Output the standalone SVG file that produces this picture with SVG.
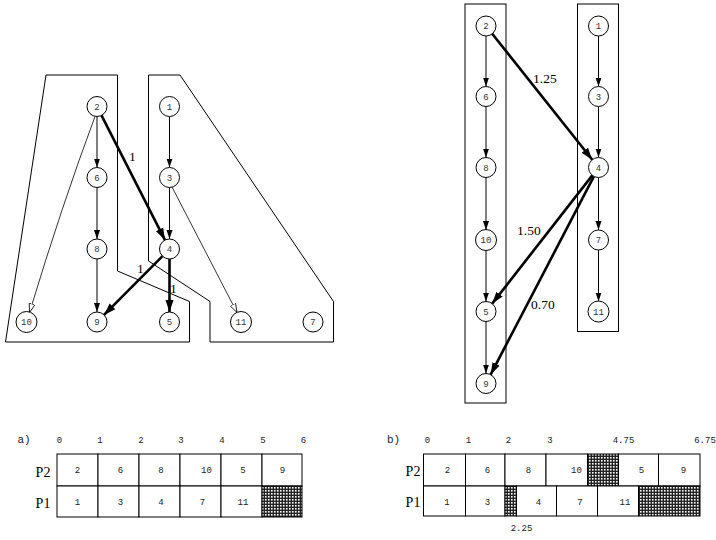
<svg xmlns="http://www.w3.org/2000/svg" width="716" height="540" viewBox="0 0 716 540">
<style>
.nd{fill:#fff;stroke:#000;stroke-width:1}
.nt{font-family:"Liberation Mono",monospace;font-size:9px;fill:#333;text-anchor:middle}
.cl{fill:none;stroke:#000;stroke-width:1}
.e{fill:none;stroke:#000;stroke-width:1;marker-end:url(#a)}
.eo{fill:none;stroke:#000;stroke-width:0.8;marker-end:url(#o)}
.et{fill:none;stroke:#000;stroke-width:2.6;marker-end:url(#t)}
.el{font-family:"Liberation Serif",serif;font-size:13.5px;fill:#000}
.tk{font-family:"Liberation Mono",monospace;font-size:9px;fill:#222;text-anchor:middle}
.ct{font-family:"Liberation Mono",monospace;font-size:9px;fill:#222;text-anchor:middle}
.pl{font-family:"Liberation Serif",serif;font-size:14px;fill:#000;text-anchor:middle}
.cell{fill:#fff;stroke:#000;stroke-width:1}
.h{fill:url(#hp);stroke:#000;stroke-width:1}
</style>
<defs>
<marker id="a" markerUnits="userSpaceOnUse" markerWidth="10" markerHeight="10" refX="9" refY="5" orient="auto"><path d="M0,2 L9,5 L0,8 Z" fill="#000"/></marker>
<marker id="t" markerUnits="userSpaceOnUse" markerWidth="14" markerHeight="14" refX="12" refY="7" orient="auto"><path d="M0,3 L12,7 L0,11 Z" fill="#000"/></marker>
<marker id="o" markerUnits="userSpaceOnUse" markerWidth="10" markerHeight="10" refX="9" refY="5" orient="auto"><path d="M0,2 L9,5 L0,8 Z" fill="#fff" stroke="#000" stroke-width="0.8"/></marker>
<pattern id="hp" patternUnits="userSpaceOnUse" width="3" height="3"><rect width="3" height="3" fill="#222"/><rect x="1" y="1" width="1.6" height="1.6" fill="#fff"/></pattern>
</defs>

<g id="clusters-left">
<polygon class="cl" points="46,75 117.5,75 117.5,271 189.5,301.5 189.5,342 5.5,342"/>
<polygon class="cl" points="148.5,75 180,75 333.5,301.5 333.5,342 210,342 210,301.5 148.5,261"/>
</g>
<g id="clusters-right">
<rect class="cl" x="465" y="4" width="41" height="399"/>
<rect class="cl" x="577.5" y="4" width="41" height="327.5"/>
</g>

<g id="connectors">
<line class="e" x1="97" y1="116.5" x2="97" y2="167.5"/>
<line class="e" x1="97" y1="187.5" x2="97" y2="239"/>
<line class="e" x1="97" y1="259" x2="97" y2="312"/>
<line class="e" x1="169.5" y1="116.5" x2="169.5" y2="167.5"/>
<line class="e" x1="169.5" y1="187.5" x2="169.5" y2="239"/>
<path class="eo" d="M95,116.5 Q62,205 29.5,312.5"/>
<line class="eo" x1="172" y1="187" x2="237" y2="312.5"/>
<line class="et" x1="101.5" y1="115.4" x2="165" y2="240.1"/>
<line class="et" x1="162.5" y1="256.1" x2="104" y2="314.9"/>
<line class="et" x1="169.5" y1="259" x2="169.5" y2="312"/>

<line class="e" x1="486" y1="36" x2="486" y2="86.5"/>
<line class="e" x1="486" y1="106.5" x2="486" y2="157.5"/>
<line class="e" x1="486" y1="177.5" x2="486" y2="230"/>
<line class="e" x1="486" y1="250" x2="486" y2="301.5"/>
<line class="e" x1="486" y1="321.5" x2="486" y2="373.5"/>
<line class="e" x1="598.5" y1="36" x2="598.5" y2="86.5"/>
<line class="e" x1="598.5" y1="106.5" x2="598.5" y2="157.5"/>
<line class="e" x1="598.5" y1="177.5" x2="598.5" y2="230"/>
<line class="e" x1="598.5" y1="250" x2="598.5" y2="301.5"/>
<line class="et" x1="492.2" y1="33.8" x2="592.3" y2="159.7"/>
<line class="et" x1="592.3" y1="175.4" x2="492.2" y2="303.6"/>
<line class="et" x1="593.9" y1="176.4" x2="490.6" y2="374.6"/>

<text class="el" x="129" y="161">1</text>
<text class="el" x="137" y="273">1</text>
<text class="el" x="170" y="293">1</text>
<text class="el" x="533" y="83">1.25</text>
<text class="el" x="517" y="235">1.50</text>
<text class="el" x="531" y="309">0.70</text>
</g>

<g id="L2"><circle class="nd" cx="97" cy="106.5" r="10"/><text class="nt" x="97" y="109.5">2</text></g>
<g id="L1"><circle class="nd" cx="169.5" cy="106.5" r="10"/><text class="nt" x="169.5" y="109.5">1</text></g>
<g id="L6"><circle class="nd" cx="97" cy="177.5" r="10"/><text class="nt" x="97" y="180.5">6</text></g>
<g id="L3"><circle class="nd" cx="169.5" cy="177.5" r="10"/><text class="nt" x="169.5" y="180.5">3</text></g>
<g id="L8"><circle class="nd" cx="97" cy="249" r="10"/><text class="nt" x="97" y="252">8</text></g>
<g id="L4"><circle class="nd" cx="169.5" cy="249" r="10"/><text class="nt" x="169.5" y="252">4</text></g>
<g id="L10"><circle class="nd" cx="26.5" cy="322" r="10.5"/><text class="nt" x="26.5" y="325">10</text></g>
<g id="L9"><circle class="nd" cx="97" cy="322" r="10"/><text class="nt" x="97" y="325">9</text></g>
<g id="L5"><circle class="nd" cx="169.5" cy="322" r="10"/><text class="nt" x="169.5" y="325">5</text></g>
<g id="L11"><circle class="nd" cx="241" cy="322" r="10.5"/><text class="nt" x="241" y="325">11</text></g>
<g id="L7"><circle class="nd" cx="313" cy="322" r="10"/><text class="nt" x="313" y="325">7</text></g>

<g id="R2"><circle class="nd" cx="486" cy="26" r="10"/><text class="nt" x="486" y="29">2</text></g>
<g id="R1"><circle class="nd" cx="598.5" cy="26" r="10"/><text class="nt" x="598.5" y="29">1</text></g>
<g id="R6"><circle class="nd" cx="486" cy="96.5" r="10"/><text class="nt" x="486" y="99.5">6</text></g>
<g id="R3"><circle class="nd" cx="598.5" cy="96.5" r="10"/><text class="nt" x="598.5" y="99.5">3</text></g>
<g id="R8"><circle class="nd" cx="486" cy="167.5" r="10"/><text class="nt" x="486" y="170.5">8</text></g>
<g id="R4"><circle class="nd" cx="598.5" cy="167.5" r="10"/><text class="nt" x="598.5" y="170.5">4</text></g>
<g id="R10"><circle class="nd" cx="486" cy="240" r="10.5"/><text class="nt" x="486" y="243">10</text></g>
<g id="R7"><circle class="nd" cx="598.5" cy="240" r="10"/><text class="nt" x="598.5" y="243">7</text></g>
<g id="R5"><circle class="nd" cx="486" cy="311.5" r="10"/><text class="nt" x="486" y="314.5">5</text></g>
<g id="R11"><circle class="nd" cx="598.5" cy="311.5" r="10.5"/><text class="nt" x="598.5" y="314.5">11</text></g>
<g id="R9"><circle class="nd" cx="486" cy="383.5" r="10"/><text class="nt" x="486" y="386.5">9</text></g>

<g id="gantt-a">
<text class="tk" x="24" y="443" style="font-size:11px">a)</text>
<text class="tk" x="59.5" y="443">0</text>
<text class="tk" x="100" y="443">1</text>
<text class="tk" x="141" y="443">2</text>
<text class="tk" x="181" y="443">3</text>
<text class="tk" x="222" y="443">4</text>
<text class="tk" x="263" y="443">5</text>
<text class="tk" x="303.5" y="443">6</text>
<text class="pl" x="43" y="477">P2</text>
<text class="pl" x="43" y="508">P1</text>
<rect class="cell" x="57" y="454" width="41" height="32"/>
<rect class="cell" x="98" y="454" width="41" height="32"/>
<rect class="cell" x="139" y="454" width="41" height="32"/>
<rect class="cell" x="180" y="454" width="41" height="32"/>
<rect class="cell" x="221" y="454" width="41" height="32"/>
<rect class="cell" x="262" y="454" width="40" height="32"/>
<rect class="cell" x="57" y="486" width="41" height="31"/>
<rect class="cell" x="98" y="486" width="41" height="31"/>
<rect class="cell" x="139" y="486" width="41" height="31"/>
<rect class="cell" x="180" y="486" width="41" height="31"/>
<rect class="cell" x="221" y="486" width="41" height="31"/>
<rect class="h" x="262" y="486" width="40" height="31"/>
<text class="ct" x="77.5" y="473">2</text>
<text class="ct" x="120.5" y="473">6</text>
<text class="ct" x="161" y="473">8</text>
<text class="ct" x="206.5" y="473">10</text>
<text class="ct" x="243" y="473">5</text>
<text class="ct" x="282.5" y="473">9</text>
<text class="ct" x="77.5" y="505">1</text>
<text class="ct" x="120.5" y="505">3</text>
<text class="ct" x="161" y="505">4</text>
<text class="ct" x="202.5" y="505">7</text>
<text class="ct" x="243" y="505">11</text>
</g>

<g id="gantt-b">
<text class="tk" x="393.5" y="443" style="font-size:11px">b)</text>
<text class="tk" x="427.5" y="443">0</text>
<text class="tk" x="468.5" y="443">1</text>
<text class="tk" x="508.5" y="443">2</text>
<text class="tk" x="550" y="443">3</text>
<text class="tk" x="623.5" y="443">4.75</text>
<text class="tk" x="705" y="443">6.75</text>
<text class="pl" x="413" y="476">P2</text>
<text class="pl" x="413" y="507">P1</text>
<rect class="cell" x="423.5" y="454" width="42" height="32"/>
<rect class="cell" x="465.5" y="454" width="39.5" height="32"/>
<rect class="cell" x="505" y="454" width="41" height="32"/>
<rect class="cell" x="546" y="454" width="41.5" height="32"/>
<rect class="h" x="587.5" y="454" width="31" height="32"/>
<rect class="cell" x="618.5" y="454" width="40" height="32"/>
<rect class="cell" x="658.5" y="454" width="41.5" height="32"/>
<rect class="cell" x="423.5" y="486" width="42" height="30"/>
<rect class="cell" x="465.5" y="486" width="39.5" height="30"/>
<rect class="h" x="505" y="486" width="11.5" height="30"/>
<rect class="cell" x="516.5" y="486" width="40" height="30"/>
<rect class="cell" x="556.5" y="486" width="41" height="30"/>
<rect class="cell" x="597.5" y="486" width="41" height="30"/>
<rect class="h" x="638.5" y="486" width="61.5" height="30"/>
<text class="ct" x="447.5" y="473">2</text>
<text class="ct" x="487.5" y="473">6</text>
<text class="ct" x="528.5" y="473">8</text>
<text class="ct" x="576.5" y="473">10</text>
<text class="ct" x="641.5" y="473">5</text>
<text class="ct" x="683.5" y="473">9</text>
<text class="ct" x="447" y="504.5">1</text>
<text class="ct" x="487.5" y="504.5">3</text>
<text class="ct" x="538.5" y="504.5">4</text>
<text class="ct" x="580" y="504.5">7</text>
<text class="ct" x="625" y="504.5">11</text>
<text class="tk" x="521.5" y="531">2.25</text>
</g>
</svg>
